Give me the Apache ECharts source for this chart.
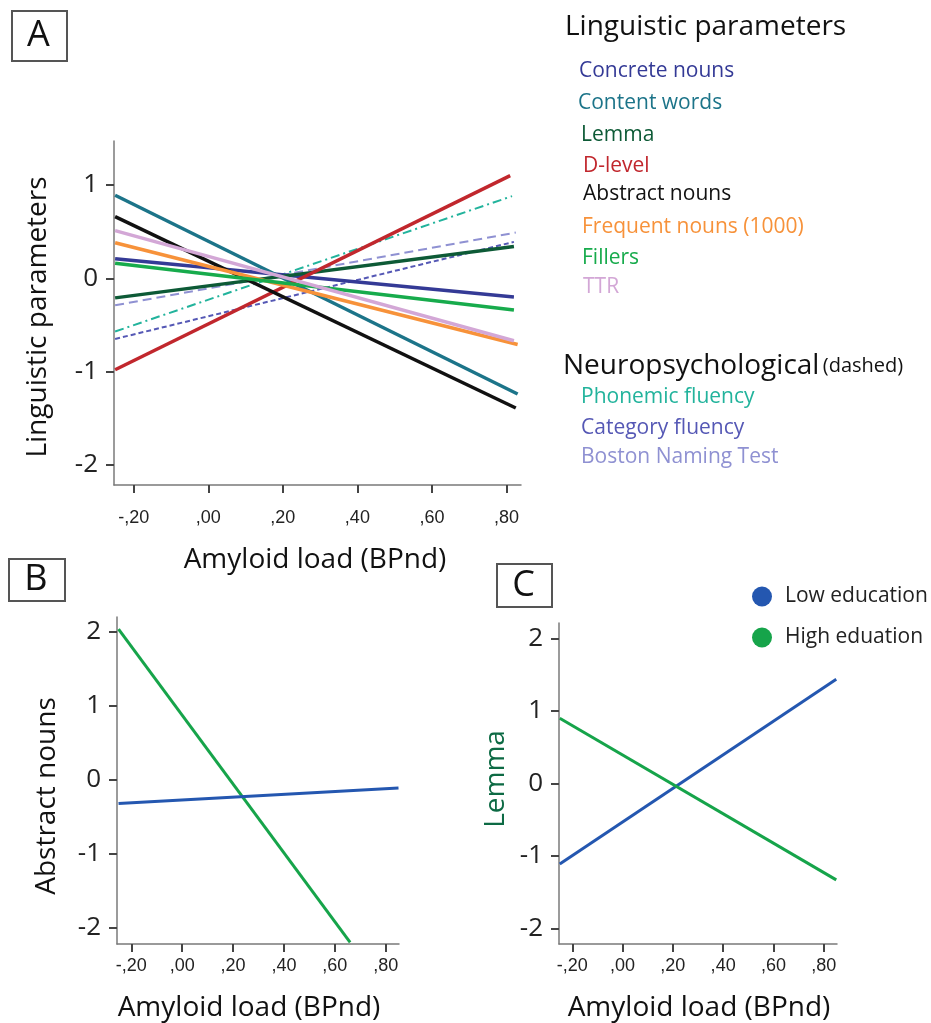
<!DOCTYPE html>
<html>
<head>
<meta charset="utf-8">
<script src="https://cdn.jsdelivr.net/npm/echarts@6/dist/echarts.min.js"></script>
<style>html,body{margin:0;padding:0;background:#fff;}#c{width:931px;height:1023px;}</style>
</head>
<body>
<div id="c"></div>
<script>
// ---------- DATA ----------
const xTicks = [-0.2, 0, 0.2, 0.4, 0.6, 0.8];
const yTicksA = [-2, -1, 0, 1];
const yTicksBC = [-2, -1, 0, 1, 2];

// Panel A: linguistic parameters (solid)
const lingNames  = ['Concrete nouns','Content words','Lemma','D-level','Abstract nouns','Frequent nouns (1000)','Fillers','TTR'];
const lingColors = ['#343a96','#1c7489','#0d5a36','#c1272d','#111111','#f7923a','#17ab4c','#d3a7d6'];
const lingStartX = [-0.25,-0.25,-0.25,-0.25,-0.25,-0.25,-0.25,-0.25];
const lingStartY = [0.21, 0.89, -0.21, -0.98, 0.66, 0.38, 0.16, 0.51];
const lingEndX   = [0.82, 0.83, 0.82, 0.81, 0.825, 0.83, 0.82, 0.82];
const lingEndY   = [-0.20, -1.24, 0.34, 1.10, -1.39, -0.71, -0.34, -0.67];

// Panel A: neuropsychological (dashed)
const neuroNames  = ['Phonemic fluency','Category fluency','Boston Naming Test'];
const neuroColors = ['#22b39c','#5558b5','#8f91d2'];
const neuroStartY = [-0.57, -0.65, -0.29];
const neuroEndX   = [0.815, 0.82, 0.825];
const neuroEndY   = [0.88, 0.39, 0.49];

// Panel B: Abstract nouns by education
const bLowX = [-0.25, 0.85];  const bLowY = [-0.32, -0.11];
const bHighX = [-0.25, 0.66]; const bHighY = [2.04, -2.2];

// Panel C: Lemma by education
const cLowX = [-0.25, 0.85];  const cLowY = [-1.11, 1.44];
const cHighX = [-0.25, 0.85]; const cHighY = [0.90, -1.33];

const eduNames = ['Low education','High eduation'];
const eduColors = ['#2457b0','#16a44a'];

// ---------- CHART ----------
const FONT = 'Open Sans';
const chart = echarts.init(document.getElementById('c'), null, {renderer:'canvas'});

function fmtX(v){
  const a = Math.round(Math.abs(v)*100);
  return (v < -1e-9 ? '-' : '') + ',' + String(a).padStart(2,'0');
}
function xAxisCfg(idx, min, max, margin){
  return {
    type:'value', gridIndex: idx, min, max, position:'bottom',
    splitLine:{show:false},
    axisLine:{onZero:false, lineStyle:{color:'#7a7a7a', width:1.5}},
    axisTick:{customValues:xTicks, length:8, lineStyle:{color:'#444', width:2}},
    axisLabel:{customValues:xTicks, formatter:fmtX, fontFamily:'Liberation Sans', fontSize:18, color:'#222', margin}
  };
}
function yAxisCfg(idx, min, max, ticks, fs){
  return {
    type:'value', gridIndex: idx, min, max, position:'left',
    splitLine:{show:false},
    axisLine:{show:true, onZero:false, lineStyle:{color:'#7a7a7a', width:1.5}},
    axisTick:{show:true, customValues:ticks, length:8, lineStyle:{color:'#444', width:2}},
    axisLabel:{customValues:ticks, fontFamily:FONT, fontSize:fs, color:'#222', margin:16}
  };
}

const series = [];
neuroNames.forEach((n,i)=>{
  const dash = i===0 ? [9,4,2,4] : (i===1 ? [5,3] : [9,5]);
  series.push({type:'line', name:n, xAxisIndex:0, yAxisIndex:0, showSymbol:false, silent:true,
    data:[[-0.25, neuroStartY[i]],[neuroEndX[i], neuroEndY[i]]],
    lineStyle:{color:neuroColors[i], width:2, type:dash}});
});
lingNames.forEach((n,i)=>{
  series.push({type:'line', name:n, xAxisIndex:0, yAxisIndex:0, showSymbol:false, silent:true,
    data:[[lingStartX[i], lingStartY[i]],[lingEndX[i], lingEndY[i]]],
    lineStyle:{color:lingColors[i], width:3.5}});
});
series.push({type:'line', name:eduNames[1], xAxisIndex:1, yAxisIndex:1, showSymbol:false, silent:true,
  data:bHighX.map((x,i)=>[x,bHighY[i]]), lineStyle:{color:eduColors[1], width:3}, itemStyle:{color:eduColors[1]}});
series.push({type:'line', name:eduNames[0], xAxisIndex:1, yAxisIndex:1, showSymbol:false, silent:true,
  data:bLowX.map((x,i)=>[x,bLowY[i]]), lineStyle:{color:eduColors[0], width:3}, itemStyle:{color:eduColors[0]}});
series.push({type:'line', name:eduNames[0], xAxisIndex:2, yAxisIndex:2, showSymbol:false, silent:true,
  data:cLowX.map((x,i)=>[x,cLowY[i]]), lineStyle:{color:eduColors[0], width:3}, itemStyle:{color:eduColors[0]}});
series.push({type:'line', name:eduNames[1], xAxisIndex:2, yAxisIndex:2, showSymbol:false, silent:true,
  data:cHighX.map((x,i)=>[x,cHighY[i]]), lineStyle:{color:eduColors[1], width:3}, itemStyle:{color:eduColors[1]}});

// graphic text elements
const graphic = [];
function box(letter, x, y, w, h){
  graphic.push({type:'rect', left:x, top:y, shape:{width:w, height:h}, style:{fill:'#fff', stroke:'#555', lineWidth:2}});
  graphic.push({type:'text', x:x + w/2, y:y + h/2 + 1, style:{text:letter, font:'36px '+FONT, fill:'#111', textAlign:'center', textVerticalAlign:'middle'}});
}
box('A', 11, 10, 55, 50);
box('B', 8, 558, 56, 42);
box('C', 496, 563, 55, 43);

function txt(t, x, yCenter, size, color){
  graphic.push({type:'text', x:x, y:yCenter, style:{text:t, font: size+'px '+FONT, fill:color, textVerticalAlign:'middle', textAlign:'left'}});
}
function vtxt(t, x, y, size, color){
  graphic.push({type:'text', x:x, y:y, rotation:Math.PI/2, style:{text:t, font:size+'px '+FONT, fill:color, textAlign:'center', textVerticalAlign:'middle'}});
}
function ctxt(t, x, y, size, color){
  graphic.push({type:'text', x:x, y:y, style:{text:t, font:size+'px '+FONT, fill:color, textAlign:'center', textVerticalAlign:'middle'}});
}
// Axis titles
vtxt('Linguistic parameters', 38, 317, 28, '#111');
ctxt('Amyloid load (BPnd)', 315, 560, 28, '#111');
vtxt('Abstract nouns', 47, 796, 28, '#111');
ctxt('Amyloid load (BPnd)', 249, 1008, 28, '#111');
vtxt('Lemma', 496, 779, 28, '#0d6a44');
ctxt('Amyloid load (BPnd)', 699, 1008, 28, '#111');

// Legend A
txt('Linguistic parameters', 565, 27, 28, '#111');
const lingLegendY = [71, 103, 135, 166, 194, 227, 258, 287];
const lingLegendX = [579, 578, 581, 583, 583, 582, 582, 583];
lingNames.forEach((n,i)=> txt(n, lingLegendX[i], lingLegendY[i], 21, lingColors[i]));
graphic.push({type:'text', x:563, y:366, style:{rich:{a:{font:'28px '+FONT, fill:'#111'}, b:{font:'20px '+FONT, fill:'#111'}}, text:'{a|Neuropsychological} {b|(dashed)}', textVerticalAlign:'middle'}});
const neuroLegendY = [397, 428, 457];
neuroNames.forEach((n,i)=> txt(n, 581, neuroLegendY[i], 21, neuroColors[i]));

chart.setOption({
  animation:false,
  backgroundColor:'#fff',
  grid:[
    {left:114, top:141, width:407, height:344},
    {left:117, top:617, width:282, height:327},
    {left:559, top:623, width:278, height:321}
  ],
  xAxis:[ xAxisCfg(0,-0.253,0.839,24), xAxisCfg(1,-0.256,0.852,13), xAxisCfg(2,-0.253,0.853,13) ],
  yAxis:[ yAxisCfg(0,-2.215,1.471,yTicksA,26), yAxisCfg(1,-2.221,2.203,yTicksBC,26), yAxisCfg(2,-2.215,2.215,yTicksBC,26) ],
  legend:{
    data: eduNames, orient:'vertical', left:747, top:581, icon:'circle', itemWidth:20, itemHeight:20, itemGap:20,
    selectedMode:false,
    textStyle:{fontFamily:FONT, fontSize:21, color:'#222', padding:[0,0,0,8]}
  },
  series,
  graphic
});
</script>
</body>
</html>
